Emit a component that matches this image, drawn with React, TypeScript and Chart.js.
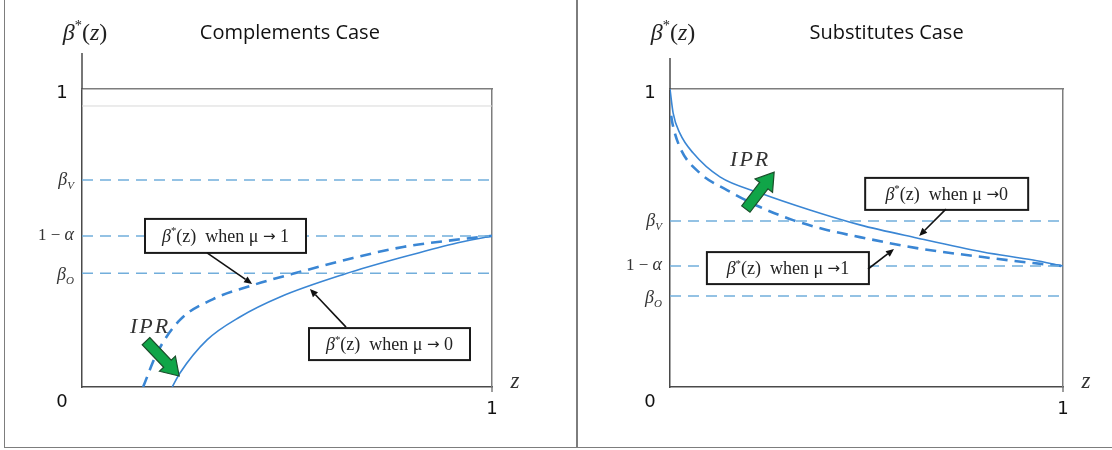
import React, { useEffect, useRef } from "react";
import { Chart, registerables } from "chart.js";

Chart.register(...registerables);

// ---------- Complements case ----------
const compSolidZ = [0.22, 0.239, 0.305, 0.385, 0.483, 0.641, 0.783, 0.905, 1.0];
const compSolidBeta = [0, 0.047, 0.158, 0.235, 0.302, 0.379, 0.436, 0.48, 0.507];
const compDashedZ = [0.149, 0.183, 0.239, 0.32, 0.417, 0.539, 0.661, 0.783, 0.905, 1.0];
const compDashedBeta = [0, 0.114, 0.225, 0.295, 0.342, 0.389, 0.433, 0.47, 0.493, 0.507];
const compLevels = [0.695, 0.507, 0.382]; // βV, 1−α, βO
const compFaint = 0.943;

// ---------- Substitutes case ----------
const subsSolidZ = [0, 0.008, 0.025, 0.059, 0.127, 0.229, 0.356, 0.483, 0.628, 0.796, 0.924, 1.0];
const subsSolidBeta = [1.0, 0.919, 0.852, 0.785, 0.705, 0.651, 0.594, 0.544, 0.5, 0.453, 0.426, 0.406];
const subsDashedZ = [0.003, 0.006, 0.025, 0.076, 0.145, 0.229, 0.313, 0.399, 0.483, 0.628, 0.796, 0.924, 1.0];
const subsDashedBeta = [0.91, 0.886, 0.805, 0.718, 0.661, 0.604, 0.56, 0.527, 0.503, 0.466, 0.436, 0.416, 0.406];
const subsLevels = [0.557, 0.406, 0.305]; // βV, 1−α, βO

const levelNames = ["V", "1−α", "O"];
const axisTicks = ["0", "1"];

const BLUE = "#3a86d4";
const REF_BLUE = "#72aedb";
const AXIS = "#4a4a4a";
const FRAME = "#7d7d7d";
const SERIF = '"Liberation Serif", "DejaVu Serif", serif';
const SANS = '"Open Sans", "Liberation Sans", sans-serif';
const DIGIT = '"DejaVu Sans", "Liberation Sans", sans-serif';

type Run = { t: string; f: string; dy?: number };

function drawRuns(ctx: CanvasRenderingContext2D, runs: Run[], x: number, baseline: number, align: "left" | "center" | "right") {
  ctx.textAlign = "left";
  ctx.textBaseline = "alphabetic";
  let w = 0;
  for (const r of runs) {
    ctx.font = r.f;
    w += ctx.measureText(r.t).width;
  }
  let sx = align === "center" ? x - w / 2 : align === "right" ? x - w : x;
  for (const r of runs) {
    ctx.font = r.f;
    ctx.fillText(r.t, sx, baseline + (r.dy || 0));
    sx += ctx.measureText(r.t).width;
  }
}

const it = (s: number) => `italic ${s}px ${SERIF}`;
const rm = (s: number) => `${s}px ${SERIF}`;

function betaStarRuns(size: number): Run[] {
  return [
    { t: "β", f: it(size) },
    { t: "*", f: rm(size * 0.6), dy: -size * 0.42 },
    { t: "(", f: rm(size) },
    { t: "z", f: it(size) },
    { t: ")", f: rm(size) },
  ];
}

function boxRuns(size: number, gap: string, mu: string): Run[] {
  return [
    { t: "β", f: it(size) },
    { t: "*", f: rm(size * 0.6), dy: -size * 0.42 },
    { t: "(z)  when μ ", f: rm(size) },
    { t: "→", f: `${size - 3}px "DejaVu Sans", sans-serif`, dy: -1 },
    { t: gap + mu, f: rm(size) },
  ];
}

function arrowLine(ctx: CanvasRenderingContext2D, x1: number, y1: number, x2: number, y2: number) {
  const a = Math.atan2(y2 - y1, x2 - x1);
  const hl = 8, hw = 3.5;
  const bx = x2 - hl * Math.cos(a), by = y2 - hl * Math.sin(a);
  ctx.strokeStyle = "#111";
  ctx.lineWidth = 1.6;
  ctx.beginPath();
  ctx.moveTo(x1, y1);
  ctx.lineTo(bx, by);
  ctx.stroke();
  ctx.fillStyle = "#111";
  ctx.beginPath();
  ctx.moveTo(x2, y2);
  ctx.lineTo(bx + hw * Math.sin(a), by - hw * Math.cos(a));
  ctx.lineTo(bx - hw * Math.sin(a), by + hw * Math.cos(a));
  ctx.closePath();
  ctx.fill();
}

function greenArrow(ctx: CanvasRenderingContext2D, x1: number, y1: number, x2: number, y2: number) {
  const a = Math.atan2(y2 - y1, x2 - x1);
  const len = Math.hypot(x2 - x1, y2 - y1);
  const sw = 5.2, hw = 11, hl = 17;
  ctx.save();
  ctx.translate(x1, y1);
  ctx.rotate(a);
  ctx.beginPath();
  ctx.moveTo(0, -sw);
  ctx.lineTo(len - hl, -sw);
  ctx.lineTo(len - hl, -hw);
  ctx.lineTo(len, 0);
  ctx.lineTo(len - hl, hw);
  ctx.lineTo(len - hl, sw);
  ctx.lineTo(0, sw);
  ctx.closePath();
  ctx.fillStyle = "#10a548";
  ctx.fill();
  ctx.strokeStyle = "#1b4d2b";
  ctx.lineWidth = 1.2;
  ctx.stroke();
  ctx.restore();
}

type Box = { x: number; y: number; w: number; h: number; gap: string; mu: string };
type Arr = { x1: number; y1: number; x2: number; y2: number };
type DecorOpts = {
  title: string;
  titleFrac: number;
  axisExt: number;
  levels: number[];
  boxes: Box[];
  arrows: Arr[];
  green: Arr;
  ipr: { x: number; y: number };
};

const decorPlugin = {
  id: "decor",
  afterDraw(chart: any, _args: any, o: DecorOpts) {
    const ctx: CanvasRenderingContext2D = chart.ctx;
    const { left, right, top, bottom } = chart.chartArea;
    const xs = chart.scales.x;
    const ys = chart.scales.y;
    const px = (v: number) => xs.getPixelForValue(v);
    const py = (v: number) => ys.getPixelForValue(v);
    ctx.save();

    // axis extensions
    ctx.strokeStyle = AXIS;
    ctx.lineWidth = 1.5;
    ctx.beginPath();
    ctx.moveTo(left, top - o.axisExt);
    ctx.lineTo(left, top);
    ctx.stroke();
    ctx.strokeStyle = FRAME;
    ctx.beginPath();
    ctx.moveTo(right, bottom);
    ctx.lineTo(right, bottom + 5);
    ctx.stroke();

    ctx.fillStyle = "#111";
    // title
    ctx.font = `20px ${SANS}`;
    ctx.textAlign = "center";
    ctx.textBaseline = "middle";
    ctx.fillText(o.title, left + (right - left) * o.titleFrac, 33);

    // y axis name
    ctx.fillStyle = "#222";
    drawRuns(ctx, betaStarRuns(24), left + 3, 40, "center");

    // numeric tick labels
    ctx.fillStyle = "#111";
    ctx.font = `18px ${DIGIT}`;
    ctx.textAlign = "center";
    ctx.textBaseline = "middle";
    ctx.fillText(axisTicks[1], left - 20, py(1) + 4);
    ctx.fillText(axisTicks[0], left - 20, py(0) + 15);
    ctx.fillText(axisTicks[1], px(1), py(0) + 22);
    ctx.fillStyle = "#333";
    ctx.font = it(23);
    ctx.fillText("z", px(1) + 23, py(0) - 5);

    // level labels
    const [lv, la, lo] = o.levels;
    ctx.fillStyle = "#333";
    drawRuns(ctx, [{ t: "β", f: it(18) }, { t: levelNames[0], f: it(11), dy: 4 }], left - 8, py(lv) + 5, "right");
    drawRuns(ctx, [{ t: "1 − ", f: rm(17) }, { t: "α", f: it(18) }], left - 8, py(la) + 4, "right");
    drawRuns(ctx, [{ t: "β", f: it(18) }, { t: levelNames[2], f: it(11), dy: 4 }], left - 8, py(lo) + 7, "right");

    // boxes
    for (const b of o.boxes) {
      const cx = px(b.x), cy = py(b.y);
      ctx.fillStyle = "#fff";
      ctx.fillRect(cx - b.w / 2, cy - b.h / 2, b.w, b.h);
      ctx.strokeStyle = "#1a1a1a";
      ctx.lineWidth = 2;
      ctx.strokeRect(cx - b.w / 2, cy - b.h / 2, b.w, b.h);
      ctx.fillStyle = "#222";
      drawRuns(ctx, boxRuns(18, b.gap, b.mu), cx, cy + 6, "center");
    }
    for (const a of o.arrows) arrowLine(ctx, px(a.x1), py(a.y1), px(a.x2), py(a.y2));

    greenArrow(ctx, px(o.green.x1), py(o.green.y1), px(o.green.x2), py(o.green.y2));

    ctx.fillStyle = "#333";
    ctx.font = it(22);
    ctx.textAlign = "center";
    ctx.textBaseline = "middle";
    (ctx as any).letterSpacing = "2px";
    ctx.fillText("IPR", px(o.ipr.x), py(o.ipr.y));
    (ctx as any).letterSpacing = "0px";
    ctx.restore();
  },
};

type Panel = {
  solidZ: number[];
  solidB: number[];
  dashZ: number[];
  dashB: number[];
  levels: number[];
  faint: number | null;
  padding: { left: number; right: number; top: number; bottom: number };
  decor: DecorOpts;
};

const hidden = { ticks: { display: false }, grid: { display: false, drawTicks: false } };

function buildConfig(p: Panel): any {
  const pts = (xs: number[], ys: number[]) => xs.map((x, i) => ({ x, y: ys[i] }));
  const datasets: any[] = [];
  if (p.faint !== null) {
    datasets.push({ data: [{ x: 0, y: p.faint }, { x: 1, y: p.faint }], borderColor: "#d9d9d9", borderWidth: 1, pointRadius: 0 });
  }
  for (const l of p.levels) {
    datasets.push({ data: [{ x: 0, y: l }, { x: 1, y: l }], borderColor: REF_BLUE, borderWidth: 1.5, borderDash: [11, 7], pointRadius: 0 });
  }
  datasets.push({ data: pts(p.dashZ, p.dashB), borderColor: BLUE, borderWidth: 2.6, borderDash: [11, 7], pointRadius: 0, cubicInterpolationMode: "monotone" });
  datasets.push({ data: pts(p.solidZ, p.solidB), borderColor: BLUE, borderWidth: 1.6, pointRadius: 0, cubicInterpolationMode: "monotone" });
  return {
    type: "line",
    data: { datasets },
    options: {
      animation: false,
      responsive: false,
      devicePixelRatio: 1,
      layout: { padding: p.padding },
      plugins: { legend: { display: false }, tooltip: { enabled: false }, decor: p.decor },
      elements: { line: { fill: false } },
      scales: {
        x: { type: "linear", min: 0, max: 1, position: "bottom", ...hidden, border: { display: true, color: AXIS, width: 1.5 } },
        y: { type: "linear", min: 0, max: 1, position: "left", ...hidden, border: { display: true, color: AXIS, width: 1.5 } },
        xTop: { type: "linear", min: 0, max: 1, position: "top", ...hidden, border: { display: true, color: FRAME, width: 1.5 } },
        yRight: { type: "linear", min: 0, max: 1, position: "right", ...hidden, border: { display: true, color: FRAME, width: 1.5 } },
      },
    },
    plugins: [decorPlugin],
  };
}

const compPanel: Panel = {
  solidZ: compSolidZ,
  solidB: compSolidBeta,
  dashZ: compDashedZ,
  dashB: compDashedBeta,
  levels: compLevels,
  faint: compFaint,
  padding: { left: 82, right: 84, top: 89, bottom: 63 },
  decor: {
    title: "Complements Case",
    titleFrac: 0.507,
    axisExt: 36,
    levels: compLevels,
    boxes: [
      { x: 0.35, y: 0.507, w: 161, h: 34, gap: " ", mu: "1" },
      { x: 0.75, y: 0.144, w: 161, h: 32, gap: " ", mu: "0" },
    ],
    arrows: [
      { x1: 0.305, y1: 0.45, x2: 0.415, y2: 0.346 },
      { x1: 0.644, y1: 0.201, x2: 0.556, y2: 0.329 },
    ],
    green: { x1: 0.156, y1: 0.154, x2: 0.237, y2: 0.037 },
    ipr: { x: 0.166, y: 0.201 },
  },
};

const subsPanel: Panel = {
  solidZ: subsSolidZ,
  solidB: subsSolidBeta,
  dashZ: subsDashedZ,
  dashB: subsDashedBeta,
  levels: subsLevels,
  faint: null,
  padding: { left: 94, right: 49, top: 89, bottom: 63 },
  decor: {
    title: "Substitutes Case",
    titleFrac: 0.551,
    axisExt: 31,
    levels: subsLevels,
    boxes: [
      { x: 0.704, y: 0.648, w: 163, h: 32, gap: "", mu: "0" },
      { x: 0.3, y: 0.399, w: 162, h: 32, gap: "", mu: "1" },
    ],
    arrows: [
      { x1: 0.702, y1: 0.597, x2: 0.634, y2: 0.507 },
      { x1: 0.504, y1: 0.396, x2: 0.57, y2: 0.463 },
    ],
    green: { x1: 0.193, y1: 0.597, x2: 0.265, y2: 0.721 },
    ipr: { x: 0.204, y: 0.762 },
  },
};

function PanelChart({ panel, left, width }: { panel: Panel; left: number; width: number }) {
  const ref = useRef<HTMLCanvasElement | null>(null);
  useEffect(() => {
    if (!ref.current) return;
    const chart = new Chart(ref.current, buildConfig(panel));
    return () => chart.destroy();
  }, [panel]);
  return (
    <canvas
      ref={ref}
      width={width}
      height={450}
      style={{ position: "absolute", left, top: 0, width, height: 450 }}
    />
  );
}

export default function App() {
  return (
    <div style={{ position: "fixed", left: 0, top: 0, width: 1112, height: 450, background: "#fff", overflow: "hidden" }}>
      <PanelChart panel={compPanel} left={0} width={576} />
      <PanelChart panel={subsPanel} left={576} width={536} />
      <div style={{ position: "absolute", left: 3.5, top: 0, width: 1.5, height: 448, background: FRAME }} />
      <div style={{ position: "absolute", left: 576, top: 0, width: 1.5, height: 448, background: FRAME }} />
      <div style={{ position: "absolute", left: 3.5, top: 446.5, width: 1110, height: 1.5, background: FRAME }} />
    </div>
  );
}
